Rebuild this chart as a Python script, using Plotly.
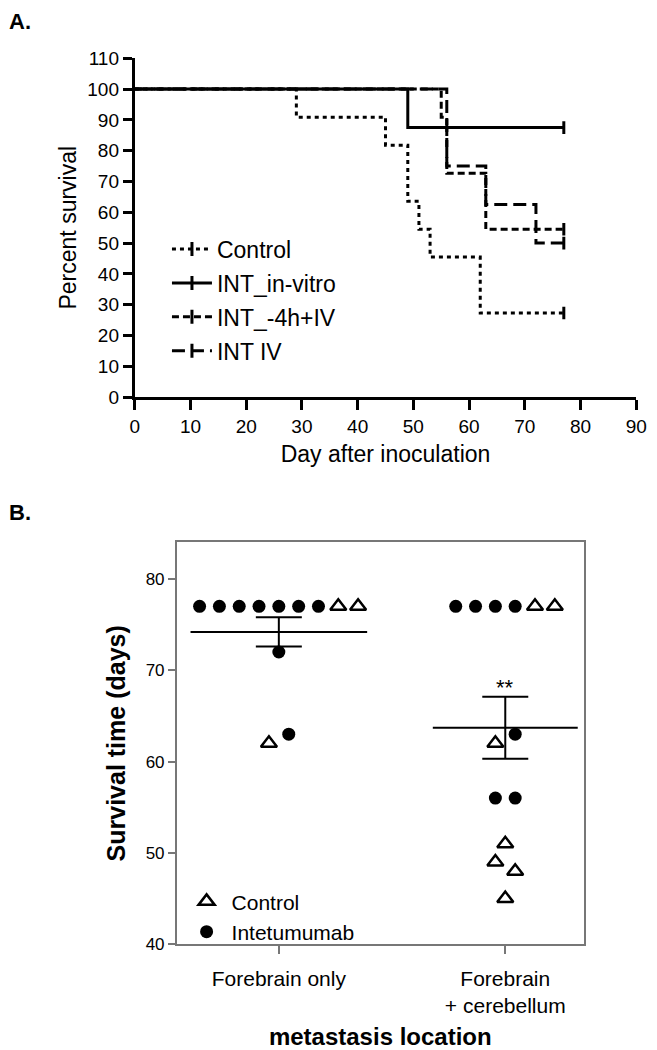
import plotly.graph_objects as go

# ---- panel A: Kaplan-Meier survival ----
days_ticks = list(range(0, 100, 10))
pct_ticks = list(range(0, 120, 10))

control_day = [0, 29, 45, 49, 51, 53, 62, 77]
control_pct = [100, 90.9, 81.8, 63.6, 54.5, 45.5, 27.3, 27.3]

invitro_day = [0, 49, 77]
invitro_pct = [100, 87.5, 87.5]

int4h_day = [0, 55, 56, 63, 77]
int4h_pct = [100, 90.9, 72.7, 54.5, 54.5]

intiv_day = [0, 56, 63, 72, 77]
intiv_pct = [100, 75, 62.5, 50, 50]

# ---- panel B: survival time per metastasis location ----
locations = ["Forebrain only", "Forebrain<br>+ cerebellum"]
# values listed row by row, left to right, as they sit in each column
fore_vals = [77, 77, 77, 77, 77, 77, 77, 77, 77, 72, 62, 63]
fore_kind = ["I", "I", "I", "I", "I", "I", "I", "C", "C", "I", "C", "I"]
cereb_vals = [77, 77, 77, 77, 77, 77, 62, 63, 56, 56, 51, 49, 48, 45]
cereb_kind = ["I", "I", "I", "I", "C", "C", "C", "I", "I", "I", "C", "C", "C", "C"]
group_mean = [74.2, 63.7]
group_sem = [1.6, 3.4]

FONT = "Arial, Liberation Sans, sans-serif"
W, H = 657, 1050

series = [
    ("Control", control_day, control_pct, "4px,4px"),
    ("INT_in-vitro", invitro_day, invitro_pct, "solid"),
    ("INT_-4h+IV", int4h_day, int4h_pct, "7px,4px"),
    ("INT IV", intiv_day, intiv_pct, "13px,6px"),
]

fig = go.Figure()

for i, (name, d, p, dash) in enumerate(series):
    fig.add_trace(go.Scatter(
        x=d, y=p, mode="lines", line=dict(color="black", width=3, dash=dash, shape="hv"),
        showlegend=False, xaxis="x", yaxis="y"))
    # censored end point
    fig.add_trace(go.Scatter(
        x=d[-1:], y=p[-1:], mode="markers",
        marker=dict(symbol="line-ns", size=9, line=dict(color="black", width=3)),
        showlegend=False, xaxis="x", yaxis="y"))
    # legend entry
    fig.add_trace(go.Scatter(
        x=[None], y=[None], mode="lines+markers", name=name, legendgroup=name,
        line=dict(color="black", width=3, dash=dash),
        marker=dict(symbol="line-ns", size=10, line=dict(color="black", width=3)),
        legend="legend", xaxis="x", yaxis="y"))


def column_offsets(vals, gap=1.5, step=0.0875):
    rows = []
    for i, v in enumerate(vals):
        if rows and abs(v - vals[rows[-1][0]]) <= gap:
            rows[-1].append(i)
        else:
            rows.append([i])
    off = [0.0] * len(vals)
    for r in rows:
        n = len(r)
        for k, i in enumerate(r):
            off[i] = (k - (n - 1) / 2) * step
    return off


pts = {"C": ([], []), "I": ([], [])}
for gi, (vals, kinds) in enumerate([(fore_vals, fore_kind), (cereb_vals, cereb_kind)]):
    for o, v, k in zip(column_offsets(vals), vals, kinds):
        pts[k][0].append(gi + o)
        pts[k][1].append(v)

fig.add_trace(go.Scatter(
    x=pts["C"][0], y=pts["C"][1], mode="markers", name="Control",
    marker=dict(symbol="triangle-up-open", size=14, color="black", line=dict(width=2.5)),
    legend="legend2", xaxis="x2", yaxis="y2"))
fig.add_trace(go.Scatter(
    x=pts["I"][0], y=pts["I"][1], mode="markers", name="Intetumumab",
    marker=dict(symbol="circle", size=13, color="black"),
    legend="legend2", xaxis="x2", yaxis="y2"))

# mean line and SEM
half = [0.39, 0.32]
mx, my = [], []
for gi, m in enumerate(group_mean):
    mx += [gi - half[gi], gi + half[gi], None]
    my += [m, m, None]
fig.add_trace(go.Scatter(x=mx, y=my, mode="lines", line=dict(color="black", width=2),
                         showlegend=False, xaxis="x2", yaxis="y2"))
fig.add_trace(go.Scatter(
    x=[0, 1], y=group_mean, mode="markers", marker=dict(size=1, opacity=0),
    error_y=dict(type="data", array=group_sem, color="black", thickness=2, width=23),
    showlegend=False, xaxis="x2", yaxis="y2"))

tickfont_a = dict(family=FONT, size=19, color="black")
tickfont_b = dict(family=FONT, size=17, color="black")

fig.update_layout(
    width=W, height=H,
    margin=dict(l=0, r=0, t=0, b=0),
    paper_bgcolor="white", plot_bgcolor="white",
    font=dict(family=FONT, color="black"),
    xaxis=dict(
        domain=[133 / W, 647 / W], range=[0, 90], tickvals=days_ticks,
        showline=True, linecolor="black", linewidth=3, ticks="outside", ticklen=10,
        tickwidth=3, tickcolor="black", showgrid=False, zeroline=False, tickfont=tickfont_a,
        ticklabeloverflow="allow",
        title=dict(text="Day after inoculation", font=dict(family=FONT, size=23), standoff=10),
        anchor="y"),
    yaxis=dict(
        domain=[1 - 395 / H, 1 - 49.3 / H], range=[0, 110], tickvals=pct_ticks,
        showline=True, linecolor="black", linewidth=3, ticks="outside", ticklen=9,
        tickwidth=3, tickcolor="black", showgrid=False, zeroline=False, tickfont=tickfont_a,
        ticklabeloverflow="allow",
        title=dict(text="Percent survival", font=dict(family=FONT, size=23), standoff=5),
        anchor="x"),
    xaxis2=dict(
        domain=[176 / W, 593.3 / W], range=[-0.451, 1.347], tickvals=[0, 1], ticktext=locations,
        showline=True, mirror=True, linecolor="#777777", linewidth=1.5, ticks="outside",
        ticklen=8, tickwidth=1.5, tickcolor="#777777", showgrid=False, zeroline=False,
        tickfont=dict(family=FONT, size=21, color="black"), ticklabelstandoff=7,
        title=dict(text="<b>metastasis location</b>", font=dict(family=FONT, size=24), standoff=12),
        anchor="y2"),
    yaxis2=dict(
        domain=[1 - 953.3 / H, 1 - 543.3 / H], range=[40, 84], tickvals=[40, 50, 60, 70, 80],
        showline=True, mirror=True, linecolor="#777777", linewidth=1.5, ticks="outside",
        ticklen=7, tickwidth=1.5, tickcolor="#777777", showgrid=False, zeroline=False,
        tickfont=tickfont_b,
        title=dict(text="<b>Survival time (days)</b>", font=dict(family=FONT, size=25), standoff=13),
        anchor="x2"),
    legend=dict(
        x=166 / W, y=1 - 222 / H, xanchor="left", yanchor="top", bgcolor="rgba(0,0,0,0)",
        font=dict(family=FONT, size=23, color="black"), tracegroupgap=1, itemwidth=40),
    legend2=dict(
        x=181 / W, y=1 - 889 / H, xanchor="left", yanchor="top", bgcolor="rgba(0,0,0,0)",
        font=dict(family=FONT, size=21, color="black"), itemwidth=40),
    annotations=[
        dict(text="<b>A.</b>", x=2 / W, y=1 - 12 / H, xref="paper", yref="paper",
             xanchor="left", yanchor="middle", showarrow=False, font=dict(family=FONT, size=22)),
        dict(text="<b>B.</b>", x=2 / W, y=1 - 513 / H, xref="paper", yref="paper",
             xanchor="left", yanchor="middle", showarrow=False, font=dict(family=FONT, size=22)),
        dict(text="**", x=1, y=group_mean[1] + group_sem[1], xref="x2", yref="y2",
             yanchor="bottom", yshift=-5, showarrow=False, font=dict(family=FONT, size=22)),
    ],
)

# page body margin would push the 657x1050 figure off the window edge
fig.write_html("out.html", config={"displayModeBar": False},
               post_script="document.body.style.margin = '0';")
